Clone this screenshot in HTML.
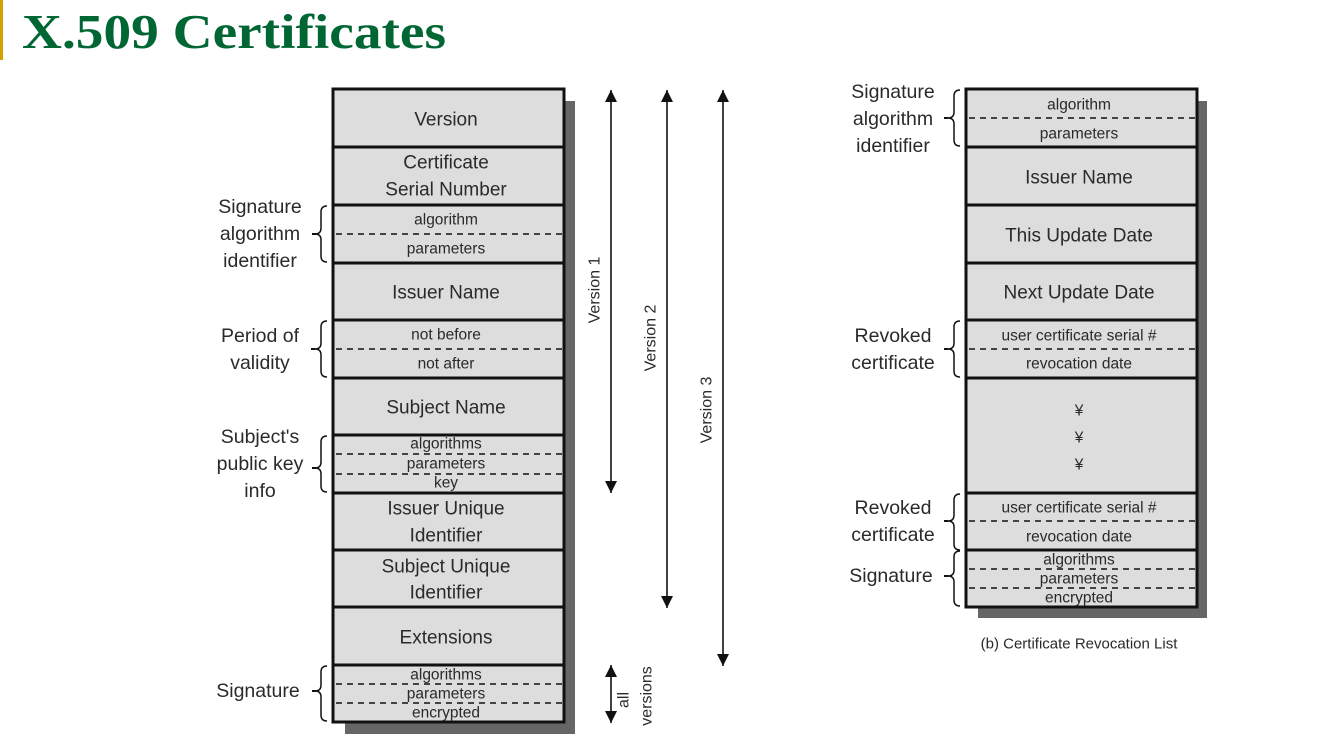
<!DOCTYPE html>
<html><head><meta charset="utf-8"><style>
html,body{margin:0;padding:0;background:#fff;}
svg{display:block;}
text{font-family:"Liberation Sans","DejaVu Sans",sans-serif;fill:#2a2a2a;}
.m{font-size:19px;}
.s{font-size:15.5px;}
.l{font-size:19.5px;}
</style></head><body>
<svg width="1327" height="749" viewBox="0 0 1327 749" xmlns="http://www.w3.org/2000/svg">
<defs>
<marker id="ah" viewBox="0 0 10 10" refX="10" refY="5" markerWidth="12" markerHeight="12" markerUnits="userSpaceOnUse" orient="auto"><path d="M0,0 L10,5 L0,10 z" fill="#111"/></marker>
</defs>
<rect x="0" y="0" width="3" height="60" fill="#d4a000"/>
<text x="22" y="48" style="font-family:'Liberation Serif',serif;font-weight:bold;font-size:49px;fill:#006633" textLength="424" lengthAdjust="spacingAndGlyphs">X.509 Certificates</text>

<!-- LEFT BOX -->
<rect x="345" y="101" width="230" height="633" fill="#666"/>
<rect x="333" y="89" width="231" height="633" fill="#dcdddc" stroke="#111" stroke-width="3"/>
<g stroke="#111" stroke-width="3">
<line x1="333" y1="147" x2="564" y2="147"/><line x1="333" y1="205" x2="564" y2="205"/>
<line x1="333" y1="263" x2="564" y2="263"/><line x1="333" y1="320" x2="564" y2="320"/>
<line x1="333" y1="378" x2="564" y2="378"/><line x1="333" y1="435" x2="564" y2="435"/>
<line x1="333" y1="493" x2="564" y2="493"/><line x1="333" y1="550" x2="564" y2="550"/>
<line x1="333" y1="607" x2="564" y2="607"/><line x1="333" y1="665" x2="564" y2="665"/>
</g>
<g stroke="#111" stroke-width="1.5" stroke-dasharray="6,5">
<line x1="336" y1="234" x2="562" y2="234"/><line x1="336" y1="349" x2="562" y2="349"/>
<line x1="336" y1="454" x2="562" y2="454"/><line x1="336" y1="474" x2="562" y2="474"/>
<line x1="336" y1="684" x2="562" y2="684"/><line x1="336" y1="703" x2="562" y2="703"/>
</g>
<g text-anchor="middle" dominant-baseline="central">
<text class="m" x="446" y="120">Version</text>
<text class="m" x="446" y="163">Certificate</text>
<text class="m" x="446" y="190">Serial Number</text>
<text class="s" x="446" y="220">algorithm</text>
<text class="s" x="446" y="249">parameters</text>
<text class="m" x="446" y="293">Issuer Name</text>
<text class="s" x="446" y="335">not before</text>
<text class="s" x="446" y="364">not after</text>
<text class="m" x="446" y="408">Subject Name</text>
<text class="s" x="446" y="444">algorithms</text>
<text class="s" x="446" y="464">parameters</text>
<text class="s" x="446" y="483">key</text>
<text class="m" x="446" y="509">Issuer Unique</text>
<text class="m" x="446" y="536">Identifier</text>
<text class="m" x="446" y="567">Subject Unique</text>
<text class="m" x="446" y="593">Identifier</text>
<text class="m" x="446" y="638">Extensions</text>
<text class="s" x="446" y="675">algorithms</text>
<text class="s" x="446" y="694">parameters</text>
<text class="s" x="446" y="713">encrypted</text>

<text class="l" x="260" y="207">Signature</text>
<text class="l" x="260" y="234">algorithm</text>
<text class="l" x="260" y="261">identifier</text>
<text class="l" x="260" y="336">Period of</text>
<text class="l" x="260" y="363">validity</text>
<text class="l" x="260" y="437">Subject's</text>
<text class="l" x="260" y="464">public key</text>
<text class="l" x="260" y="491">info</text>
<text class="l" x="258" y="691">Signature</text>
</g>
<g fill="none" stroke="#111" stroke-width="1.5">
<path d="M327,206 q-6,0 -6,6 v16 q0,6 -6,6 q6,0 6,6 v16 q0,6 6,6"/>
<path d="M327,321 q-6,0 -6,6 v16 q0,6 -6,6 q6,0 6,6 v16 q0,6 6,6"/>
<path d="M327,436 q-6,0 -6,6 v20 q0,6 -6,6 q6,0 6,6 v12 q0,6 6,6"/>
<path d="M327,666 q-6,0 -6,6 v13 q0,6 -6,6 q6,0 6,6 v18 q0,6 6,6"/>
</g>
<g stroke="#111" stroke-width="2">
<line x1="312" y1="234" x2="316" y2="234"/><line x1="312" y1="468" x2="316" y2="468"/>
<line x1="312" y1="691" x2="316" y2="691"/><line x1="311" y1="349" x2="315" y2="349"/>
</g>

<!-- arrows -->
<g stroke="#111" stroke-width="1.6">
<line x1="611" y1="300" x2="611" y2="90" marker-end="url(#ah)"/>
<line x1="611" y1="300" x2="611" y2="493" marker-end="url(#ah)"/>
<line x1="667" y1="300" x2="667" y2="90" marker-end="url(#ah)"/>
<line x1="667" y1="300" x2="667" y2="608" marker-end="url(#ah)"/>
<line x1="723" y1="300" x2="723" y2="90" marker-end="url(#ah)"/>
<line x1="723" y1="300" x2="723" y2="666" marker-end="url(#ah)"/>
<line x1="611" y1="693" x2="611" y2="665" marker-end="url(#ah)"/>
<line x1="611" y1="693" x2="611" y2="723" marker-end="url(#ah)"/>
</g>
<g class="s" text-anchor="middle" dominant-baseline="central" style="font-size:16px">
<text transform="translate(595,290) rotate(-90)">Version 1</text>
<text transform="translate(651,338) rotate(-90)">Version 2</text>
<text transform="translate(707,410) rotate(-90)">Version 3</text>
<text transform="translate(624,700) rotate(-90)">all</text>
<text transform="translate(647,696) rotate(-90)">versions</text>
</g>

<!-- RIGHT BOX -->
<rect x="978" y="101" width="229" height="517" fill="#666"/>
<rect x="966" y="89" width="231" height="518" fill="#dcdddc" stroke="#111" stroke-width="3"/>
<g stroke="#111" stroke-width="3">
<line x1="966" y1="147" x2="1197" y2="147"/><line x1="966" y1="205" x2="1197" y2="205"/>
<line x1="966" y1="263" x2="1197" y2="263"/><line x1="966" y1="320" x2="1197" y2="320"/>
<line x1="966" y1="378" x2="1197" y2="378"/><line x1="966" y1="493" x2="1197" y2="493"/>
<line x1="966" y1="550" x2="1197" y2="550"/>
</g>
<g stroke="#111" stroke-width="1.5" stroke-dasharray="6,5">
<line x1="969" y1="118" x2="1195" y2="118"/><line x1="969" y1="349" x2="1195" y2="349"/>
<line x1="969" y1="521" x2="1195" y2="521"/><line x1="969" y1="569" x2="1195" y2="569"/>
<line x1="969" y1="588" x2="1195" y2="588"/>
</g>
<g text-anchor="middle" dominant-baseline="central">
<text class="s" x="1079" y="105">algorithm</text>
<text class="s" x="1079" y="134">parameters</text>
<text class="m" x="1079" y="178">Issuer Name</text>
<text class="m" x="1079" y="236">This Update Date</text>
<text class="m" x="1079" y="293">Next Update Date</text>
<text class="s" x="1079" y="336">user certificate serial #</text>
<text class="s" x="1079" y="364">revocation date</text>
<text class="s" x="1079" y="411">¥</text>
<text class="s" x="1079" y="438">¥</text>
<text class="s" x="1079" y="465">¥</text>
<text class="s" x="1079" y="508">user certificate serial #</text>
<text class="s" x="1079" y="537">revocation date</text>
<text class="s" x="1079" y="560">algorithms</text>
<text class="s" x="1079" y="579">parameters</text>
<text class="s" x="1079" y="598">encrypted</text>
<text class="s" x="1079" y="644" style="font-size:15px">(b) Certificate Revocation List</text>

<text class="l" x="893" y="92">Signature</text>
<text class="l" x="893" y="119">algorithm</text>
<text class="l" x="893" y="146">identifier</text>
<text class="l" x="893" y="336">Revoked</text>
<text class="l" x="893" y="363">certificate</text>
<text class="l" x="893" y="508">Revoked</text>
<text class="l" x="893" y="535">certificate</text>
<text class="l" x="891" y="576">Signature</text>
</g>
<g fill="none" stroke="#111" stroke-width="1.5">
<path d="M960,90 q-6,0 -6,6 v16 q0,6 -6,6 q6,0 6,6 v16 q0,6 6,6"/>
<path d="M960,321 q-6,0 -6,6 v16 q0,6 -6,6 q6,0 6,6 v16 q0,6 6,6"/>
<path d="M960,494 q-6,0 -6,6 v15 q0,6 -6,6 q6,0 6,6 v17 q0,6 6,6"/>
<path d="M960,551 q-6,0 -6,6 v13 q0,6 -6,6 q6,0 6,6 v18 q0,6 6,6"/>
</g>
<g stroke="#111" stroke-width="2">
<line x1="944" y1="118" x2="948" y2="118"/><line x1="944" y1="349" x2="948" y2="349"/>
<line x1="944" y1="521" x2="948" y2="521"/><line x1="944" y1="576" x2="948" y2="576"/>
</g>
</svg>
</body></html>
